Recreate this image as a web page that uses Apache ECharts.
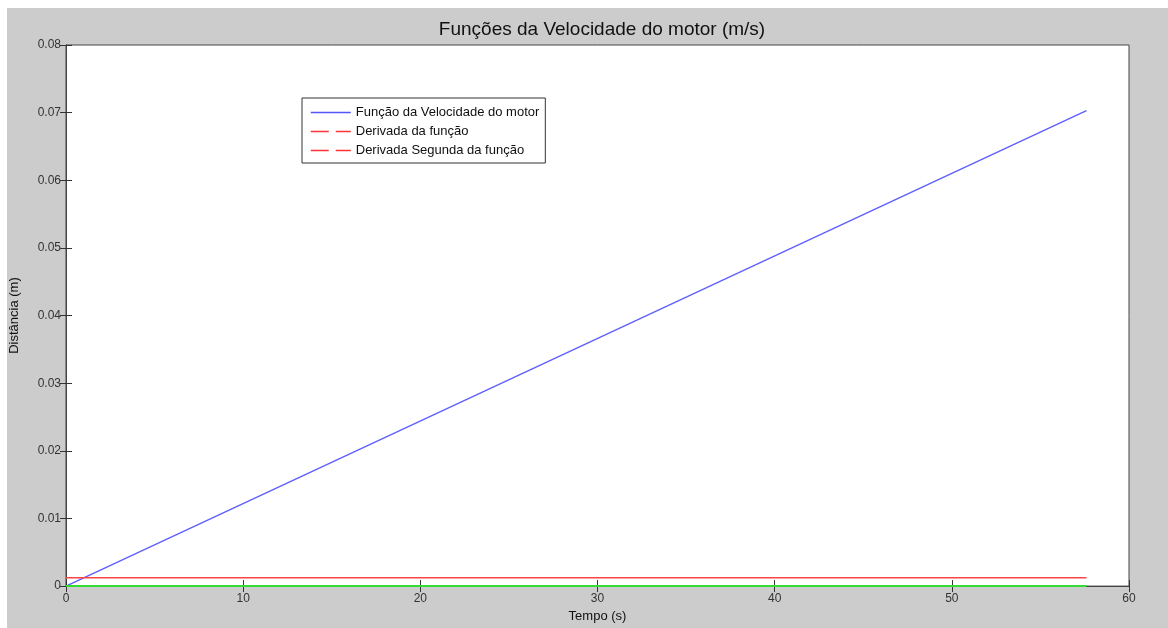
<!DOCTYPE html>
<html>
<head>
<meta charset="utf-8">
<script src="https://cdn.jsdelivr.net/npm/echarts@6/dist/echarts.min.js"></script>
<style>
  html, body { margin: 0; padding: 0; background: #fff; }
  #chart { width: 1168px; height: 628px; }
</style>
</head>
<body>
<div id="chart"></div>
<script>
// valores
const velocidade = [[0, 0], [57.6, 0.0703]]
const derivada = [[0, 0.00122], [57.6, 0.00122]]
const derivadaSegunda = [[0, 0], [57.6, 0]]
const nomes = ['Função da Velocidade do motor', 'Derivada da função', 'Derivada Segunda da função']

const chart = echarts.init(document.getElementById('chart'))
const tickStyle = { show: true, inside: true, length: 6, lineStyle: { color: '#333' } }
const labelStyle = { color: '#333', fontFamily: 'Arial, Liberation Sans', fontSize: 12 }

const option = {
  backgroundColor: '#cccccc',
  animation: false,
  graphic: [
    { type: 'rect', left: 0, top: 0, shape: { width: 1168, height: 8 }, style: { fill: '#fff' }, z: 100 },
    { type: 'rect', left: 0, top: 0, shape: { width: 7, height: 628 }, style: { fill: '#fff' }, z: 100 }
  ],
  title: {
    text: 'Funções da Velocidade do motor (m/s)',
    left: 597,
    textAlign: 'center',
    top: 15,
    textStyle: { fontFamily: 'Arial, Liberation Sans', fontSize: 19, fontWeight: 'normal', color: '#111' }
  },
  grid: {
    left: 66, right: 39, top: 45, bottom: 40,
    show: true, backgroundColor: '#fff', borderColor: '#444', borderWidth: 1
  },
  legend: {
    left: 302, top: 98,
    orient: 'vertical',
    backgroundColor: '#fff',
    borderColor: '#333',
    borderWidth: 1,
    borderRadius: 0,
    padding: [8, 6, 6, 8],
    itemGap: 6,
    itemWidth: 40,
    itemHeight: 13,
    itemStyle: { opacity: 0 },
    textStyle: { fontFamily: 'Arial, Liberation Sans', fontSize: 13, color: '#111' },
    data: [
      { name: nomes[0], lineStyle: { color: '#5555ff', width: 1.5, opacity: 1, type: 'solid' } },
      { name: nomes[1], lineStyle: { color: '#ff3333', width: 1.5, opacity: 1, type: [18, 7] } },
      { name: nomes[2], lineStyle: { color: '#ff3333', width: 1.5, opacity: 1, type: [18, 7] } }
    ]
  },
  xAxis: [
    {
      type: 'value', min: 0, max: 60, interval: 10,
      name: 'Tempo (s)', nameLocation: 'middle', nameGap: 22,
      nameTextStyle: { fontFamily: 'Arial, Liberation Sans', fontSize: 13, color: '#111' },
      axisLine: { show: true, lineStyle: { color: '#444' } },
      axisTick: tickStyle,
      axisLabel: Object.assign({ margin: 7 }, labelStyle),
      splitLine: { show: false }
    },
    {
      type: 'value', min: 0, max: 60, interval: 10, position: 'top',
      axisLine: { show: true, lineStyle: { color: '#444' } },
      axisTick: tickStyle, axisLabel: { show: false }, splitLine: { show: false }
    }
  ],
  yAxis: [
    {
      type: 'value', min: 0, max: 0.08, interval: 0.01,
      name: 'Distância (m)', nameLocation: 'middle', nameGap: 45,
      nameTextStyle: { fontFamily: 'Arial, Liberation Sans', fontSize: 13, color: '#111' },
      axisLine: { show: true, lineStyle: { color: '#444' } },
      axisTick: tickStyle,
      axisLabel: Object.assign({ margin: 5 }, labelStyle),
      splitLine: { show: false }
    },
    {
      type: 'value', min: 0, max: 0.08, interval: 0.01, position: 'right',
      axisLine: { show: true, lineStyle: { color: '#444' } },
      axisTick: tickStyle, axisLabel: { show: false }, splitLine: { show: false }
    }
  ],
  series: [
    {
      name: nomes[0], type: 'line', data: velocidade, symbol: 'none',
      lineStyle: { color: '#6060ff', width: 1.5 }, itemStyle: { color: '#6060ff' }
    },
    {
      name: nomes[1], type: 'line', data: derivada, symbol: 'none',
      lineStyle: { color: '#ff4444', width: 1.5 }, itemStyle: { color: '#ff4444' }
    },
    {
      name: nomes[2], type: 'line', data: derivadaSegunda, symbol: 'none',
      lineStyle: { color: '#33dd33', width: 2 }, itemStyle: { color: '#33dd33' }
    }
  ]
}
chart.setOption(option)
</script>
</body>
</html>
